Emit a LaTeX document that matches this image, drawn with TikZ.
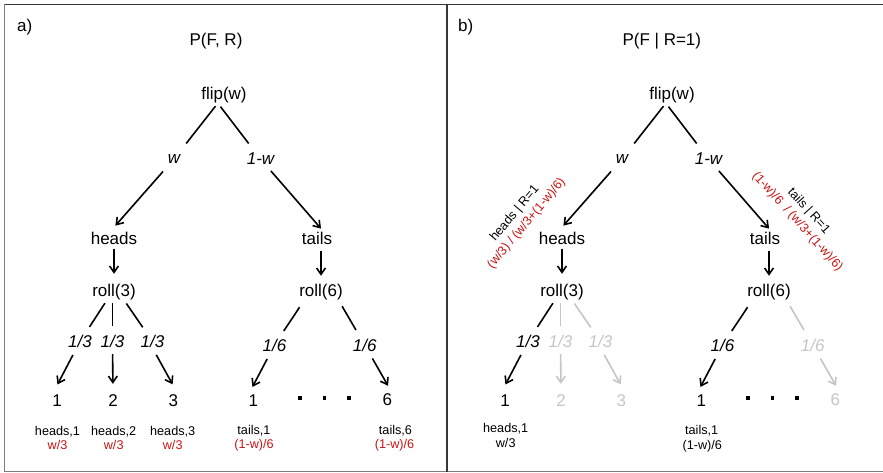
\documentclass[tikz,border=0pt]{standalone}
\usepackage{fontspec}
\setmainfont{Liberation Sans}
\usetikzlibrary{arrows.meta}

\definecolor{probred}{RGB}{204,20,20}
\definecolor{dimgrey}{RGB}{198,198,198}
\definecolor{framedark}{RGB}{55,55,55}
\definecolor{framelight}{RGB}{125,125,125}

\newcommand\bigtxt{\fontsize{12.75pt}{15pt}\selectfont}
\newcommand\smalltxt{\fontsize{9.5pt}{11.5pt}\selectfont}

\tikzset{
  treenode/.style={inner sep=0pt, font=\bigtxt},
  edgelab/.style={inner sep=0pt, font=\bigtxt\itshape},
  leaflab/.style={inner sep=0pt, font=\smalltxt},
  condlab/.style={inner sep=0pt, font=\smalltxt, align=center},
  dotmark/.style={fill, rectangle, minimum size=2.6pt, inner sep=0pt},
  treeline/.style={line width=1.2pt},
  treearrow/.style={line width=1.2pt, -{Straight Barb[length=4.8pt,width=6.6pt]}},
}

% The shared tree: flip -> heads/tails -> rolls -> outcomes.
% Branches styled "dimmed" are greyed out in the conditioned panel.
\newcommand\drawtree{%
  \node[treenode] (flip)  at (224,95)    {flip(w)};
  \node[edgelab]  (w)     at (174,159)   {w};
  \node[edgelab]  (onew)  at (260.5,159) {1-w};
  \node[treenode] (heads) at (114,238)   {heads};
  \node[treenode] (tails) at (317,238)   {tails};
  \node[treenode] (roll3) at (114,292)   {roll(3)};
  \node[treenode] (roll6) at (321,292)   {roll(6)};
  \node[edgelab]         (t1) at (80,341.5)    {1/3};
  \node[edgelab,dimmed]  (t2) at (112.5,341.5) {1/3};
  \node[edgelab,dimmed]  (t3) at (152.5,341.5) {1/3};
  \node[edgelab]         (s1) at (274.5,345)   {1/6};
  \node[edgelab,dimmed]  (s2) at (364.7,345)   {1/6};
  \node[treenode]        (d1) at (57,401)      {1};
  \node[treenode,dimmed] (d2) at (113,401)     {2};
  \node[treenode,dimmed] (d3) at (173.3,401)   {3};
  \node[treenode]        (e1) at (253.3,401)   {1};
  \node[treenode,dimmed] (e6) at (387.3,399.5) {6};
  \node[dotmark] (dt1) at (300,398) {};
  \node[dotmark] (dt2) at (324.3,398) {};
  \node[dotmark] (dt3) at (349,398) {};
  % coin flip
  \draw[treeline, shorten <=2.85pt, shorten >=14.8pt] (flip.-127) -- (w.center);
  \draw[treearrow, shorten <=12.45pt, shorten >=5.85pt] (w.center) -- (heads.120);
  \draw[treeline, shorten <=3.3pt, shorten >=14.6pt] (flip.-127) -- (onew.center);
  \draw[treearrow, shorten <=11.85pt, shorten >=2.85pt] (onew.center) -- (tails.45);
  \draw[treearrow, shorten <=3.3pt, shorten >=7.5pt] (heads.south) -- (roll3.north);
  \draw[treearrow, shorten <=4.95pt, shorten >=6pt] (tails.south -| roll6.center) -- (roll6.north);
  % three-sided die
  \draw[treeline, shorten <=2.7pt, shorten >=13pt] (roll3.-131) -- (t1.center);
  \draw[treearrow, shorten <=11.4pt, shorten >=8.8pt] (t1.center) -- (d1.north west);
  \draw[treeline, dimmed, shorten <=2.25pt, shorten >=11.6pt] (t2.center |- roll3.south) -- (t2.center);
  \draw[treearrow, dimmed, shorten <=9.4pt, shorten >=8.2pt] (t2.center) -- (d2.north);
  \draw[treeline, dimmed, shorten <=3pt, shorten >=12.9pt] (roll3.-39) -- (t3.center);
  \draw[treearrow, dimmed, shorten <=5.85pt, shorten >=8.85pt] (t3.south) -- (d3.north east);
  % six-sided die
  \draw[treeline, shorten <=6.3pt, shorten >=12.6pt] (roll6.-154) -- (s1.center);
  \draw[treearrow, shorten <=11.85pt, shorten >=6.7pt] (s1.center) -- (e1.north west);
  \draw[treeline, dimmed, shorten <=5.25pt, shorten >=13pt] (roll6.-25) -- (s2.center);
  \draw[treearrow, dimmed, shorten <=11.6pt, shorten >=6.4pt] (s2.center) -- (e6.north east);
}

\begin{document}
\begin{tikzpicture}[x=0.75pt, y=-0.75pt]
  \fill[white] (0,0) rectangle (883,473);
  \useasboundingbox (0,0) rectangle (883,473);

  % frame
  \draw[framedark, line width=1.1pt] (4,4.3) -- (883,4.3);
  \draw[framelight, line width=0.8pt] (4.7,4) -- (4.7,471.3);
  \draw[framelight, line width=0.9pt] (4,471.3) -- (883,471.3);
  \draw[framedark, line width=1.5pt] (446.7,4) -- (446.7,471.8);

  % panel a: joint distribution
  \begin{scope}[name prefix=a-, dimmed/.style={}]
    \node[treenode] (tag)   at (24.7,27) {a)};
    \node[treenode] (title) at (216,41)  {P(F, R)};
    \drawtree
    \node[leaflab] (l1)  at (57.5,431.7)  {heads,1};
    \node[leaflab, text=probred] (p1) at (57.5,445) {w/3};
    \node[leaflab] (l2)  at (113.7,431.7) {heads,2};
    \node[leaflab, text=probred] (p2) at (113.7,445) {w/3};
    \node[leaflab] (l3)  at (172.7,431.7) {heads,3};
    \node[leaflab, text=probred] (p3) at (172.7,445) {w/3};
    \node[leaflab] (l4)  at (254,431)     {tails,1};
    \node[leaflab, text=probred] (p4) at (254,445) {(1-w)/6};
    \node[leaflab] (l6)  at (395.5,431)   {tails,6};
    \node[leaflab, text=probred] (p6) at (394.5,445) {(1-w)/6};
  \end{scope}

  % panel b: conditioned on R=1
  \begin{scope}[name prefix=b-, dimmed/.style={color=dimgrey}]
    \node[treenode] (tag)   at (465.8,26.7) {b)};
    \node[treenode] (title) at (661.8,41)   {P(F | R=1)};
    \begin{scope}[xshift=336pt]
      \drawtree
    \end{scope}
    \node[leaflab] (l1) at (505.7,428.3) {heads,1};
    \node[leaflab] (p1) at (505.7,443.3) {w/3};
    \node[leaflab] (l4) at (701.7,431)   {tails,1};
    \node[leaflab] (p4) at (702.3,446.7) {(1-w)/6};
    \node[condlab, rotate=50]  (hcond) at (520.7,218.5)
      {heads | R=1\\\textcolor{probred}{(w/3) / (w/3+(1-w)/6)}};
    \node[condlab, rotate=-48] (tcond) at (803,216.5)
      {tails | R=1\\\textcolor{probred}{(1-w)/6\ \ / (w/3+(1-w)/6)}};
  \end{scope}
\end{tikzpicture}
\end{document}
